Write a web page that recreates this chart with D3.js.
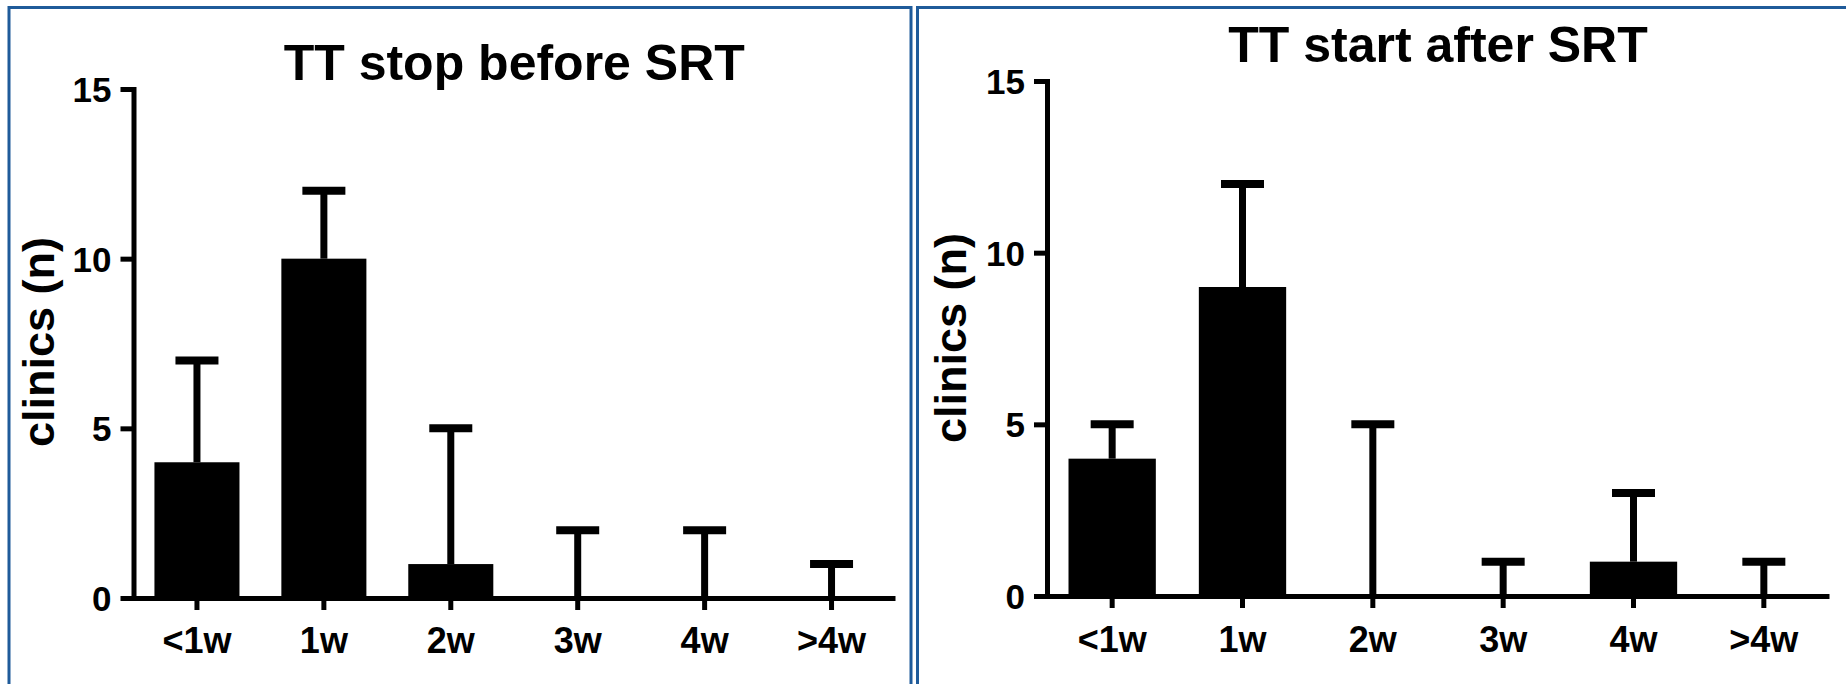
<!DOCTYPE html>
<html>
<head>
<meta charset="utf-8">
<script src="https://cdn.jsdelivr.net/npm/d3@7"></script>
<style>
  html, body { margin: 0; padding: 0; background: #fff; }
  svg { display: block; }
  text { font-family: "Liberation Sans", Arial, sans-serif; font-weight: bold; fill: #000; }
</style>
</head>
<body>
<svg id="chart" width="1846" height="684"></svg>
<script>
// Week bins for the time interval between therapy and SRT
const categories = ["<1w", "1w", "2w", "3w", "4w", ">4w"];

// TT stop before SRT: bar heights and top of the error bar
const stopBeforeValues = [4, 10, 1, 0, 0, 0];
const stopBeforeUpper = [7, 12, 5, 2, 2, 1];

// TT start after SRT: bar heights and top of the error bar
const startAfterValues = [4, 9, 0, 0, 1, 0];
const startAfterUpper = [5, 12, 5, 1, 3, 1];

const yTicks = [0, 5, 10, 15];
const panelTitles = ["TT stop before SRT", "TT start after SRT"];
const yAxisTitle = "clinics (n)";

const svg = d3.select("#chart");
const borderColor = "#1f5b9a";

// panel frames (open at the bottom / right edge of the figure)
const frames = [
  { x: 9, y: 7.5, w: 902, h: 720 },
  { x: 917.5, y: 7.5, w: 960, h: 720 }
];
frames.forEach(f => {
  svg.append("rect")
    .attr("x", f.x).attr("y", f.y).attr("width", f.w).attr("height", f.h)
    .attr("fill", "none").attr("stroke", borderColor).attr("stroke-width", 3);
});

const panels = [
  { title: panelTitles[0], values: stopBeforeValues, upper: stopBeforeUpper,
    x0: 133.5, x1: 895, yTop: 89, yBottom: 598, titleY: 80, labelX: 54, labelY: 342, xPad: 17 },
  { title: panelTitles[1], values: startAfterValues, upper: startAfterUpper,
    x0: 1047, x1: 1829, yTop: 81, yBottom: 596, titleY: 62, labelX: 966, labelY: 338, xPad: 18 }
];

function drawPanel(p) {
  const g = svg.append("g");

  const x = d3.scaleBand()
    .domain(categories)
    .range([p.x0, p.x1])
    .paddingInner(0.33)
    .paddingOuter(0.165);

  const y = d3.scaleLinear().domain([0, 15]).range([p.yBottom, p.yTop]);

  const rows = categories.map((c, i) => ({ cat: c, v: p.values[i], hi: p.upper[i] }));

  // bars
  g.selectAll("rect.bar").data(rows).join("rect")
    .attr("class", "bar")
    .attr("x", d => x(d.cat))
    .attr("width", x.bandwidth())
    .attr("y", d => y(d.v))
    .attr("height", d => y(0) - y(d.v))
    .attr("fill", "#000");

  // upper error bars: stem and cap
  const cx = d => x(d.cat) + x.bandwidth() / 2;
  g.selectAll("line.stem").data(rows).join("line")
    .attr("class", "stem")
    .attr("x1", cx).attr("x2", cx)
    .attr("y1", d => y(d.v)).attr("y2", d => y(d.hi))
    .attr("stroke", "#000").attr("stroke-width", 7);
  g.selectAll("line.cap").data(rows).join("line")
    .attr("class", "cap")
    .attr("x1", d => cx(d) - 21.5).attr("x2", d => cx(d) + 21.5)
    .attr("y1", d => y(d.hi)).attr("y2", d => y(d.hi))
    .attr("stroke", "#000").attr("stroke-width", 8);

  // y axis
  const yAxis = g.append("g")
    .attr("transform", `translate(${p.x0},0)`)
    .call(d3.axisLeft(y).tickValues(yTicks).tickSize(13).tickSizeOuter(0).tickPadding(9));
  yAxis.select(".domain").attr("stroke", "#000").attr("stroke-width", 5).attr("stroke-linecap", "square");
  yAxis.selectAll(".tick line").attr("stroke", "#000").attr("stroke-width", 5);
  yAxis.selectAll(".tick text").style("font-size", "35px").attr("dy", "0.36em");

  // x axis
  const xAxis = g.append("g")
    .attr("transform", `translate(0,${p.yBottom})`)
    .call(d3.axisBottom(x).tickSize(12).tickSizeOuter(0).tickPadding(p.xPad));
  xAxis.select(".domain").attr("stroke", "#000").attr("stroke-width", 5);
  xAxis.selectAll(".tick line").attr("stroke", "#000").attr("stroke-width", 5);
  xAxis.selectAll(".tick text").style("font-size", "36px");

  // panel title
  g.append("text")
    .attr("x", (p.x0 + p.x1) / 2)
    .attr("y", p.titleY)
    .attr("text-anchor", "middle")
    .style("font-size", "50px")
    .text(p.title);

  // y axis title
  g.append("text")
    .attr("transform", `translate(${p.labelX},${p.labelY}) rotate(-90)`)
    .attr("text-anchor", "middle")
    .style("font-size", "45px")
    .text(yAxisTitle);
}

panels.forEach(drawPanel);
</script>
</body>
</html>
